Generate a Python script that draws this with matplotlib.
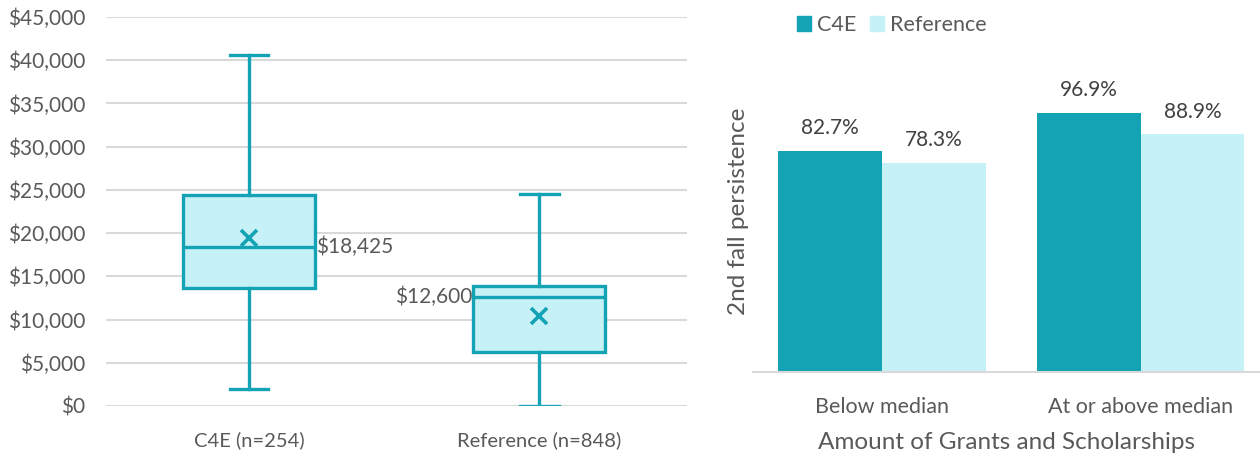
import numpy as np
import matplotlib
matplotlib.use('Agg')
import matplotlib.pyplot as plt
from matplotlib.patches import Patch
from matplotlib.ticker import FuncFormatter

plt.rcParams['font.family'] = ['Lato', 'DejaVu Sans']

# Grants and scholarships box plot (dollars)
groups = ['C4E (n=254)', 'Reference (n=848)']
whisker_low = [2000, 0]
q1 = [13600, 6300]
median = [18425, 12600]
q3 = [24400, 13900]
whisker_high = [40600, 24500]
mean = [19400, 10400]

# 2nd fall persistence by amount of aid (%)
aid_levels = ['Below median', 'At or above median']
series = ['C4E', 'Reference']
c4e_pct = [82.7, 96.9]
ref_pct = [78.3, 88.9]

dark = '#14A3B5'
light = '#C6F1F7'
grey_txt = '#595959'
grid_col = '#D9D9D9'

fig = plt.figure(figsize=(12.6, 4.57), dpi=100)

# Left: box plot
ax1 = fig.add_axes([106/1260, 51/457, 581/1260, 389/457])
stats = []
for i in range(len(groups)):
    stats.append({'whislo': whisker_low[i], 'q1': q1[i], 'med': median[i],
                  'q3': q3[i], 'whishi': whisker_high[i], 'mean': mean[i],
                  'fliers': []})
pos = np.arange(1, len(groups) + 1)
lw = 2.4
ax1.bxp(stats, positions=pos, widths=0.455, capwidths=[0.134]*2,
        showmeans=True, showfliers=False, patch_artist=True,
        boxprops=dict(facecolor=light, edgecolor=dark, linewidth=lw),
        medianprops=dict(color=dark, linewidth=lw),
        whiskerprops=dict(color=dark, linewidth=lw),
        capprops=dict(color=dark, linewidth=lw),
        meanprops=dict(marker='x', markeredgecolor=dark, markersize=11,
                       markeredgewidth=2.6))
ax1.set_xlim(0.507, 2.51)
ax1.set_ylim(0, 45000)
ax1.set_yticks(np.arange(0, 45001, 5000))
ax1.yaxis.set_major_formatter(FuncFormatter(lambda v, p: '${:,.0f}'.format(v)))
ax1.set_xticks(pos)
ax1.set_xticklabels(groups)
ax1.grid(axis='y', color=grid_col, linewidth=1.5, zorder=0)
ax1.set_axisbelow(True)
for s in ax1.spines.values():
    s.set_visible(False)
ax1.tick_params(axis='y', length=0, pad=15, labelsize=15, labelcolor=grey_txt)
ax1.tick_params(axis='x', length=0, pad=18, labelsize=14.5, labelcolor=grey_txt)

# median labels
ax1.text(pos[0] + 0.455/2 + 0.003, median[0], '${:,.0f}'.format(median[0]),
         ha='left', va='center', fontsize=15, color=grey_txt)
ax1.text(pos[1] - 0.455/2 - 0.003, median[1], '${:,.0f}'.format(median[1]),
         ha='right', va='center', fontsize=15, color=grey_txt)

# Right: grouped bars
ax2 = fig.add_axes([753/1260, 85/457, 507/1260, 321/457])
x = np.arange(len(aid_levels))
w = 0.4
b1 = ax2.bar(x - w/2, c4e_pct, w, color=dark, label=series[0])
b2 = ax2.bar(x + w/2, ref_pct, w, color=light, label=series[1])
for bars, vals in [(b1, c4e_pct), (b2, ref_pct)]:
    for bar, v in zip(bars, vals):
        ax2.annotate('{:.1f}%'.format(v), (bar.get_x() + bar.get_width()/2, v),
                     xytext=(0, 9), textcoords='offset points',
                     ha='center', va='bottom', fontsize=15, color='#404040')
ax2.set_xlim(-0.498, 1.46)
ax2.set_ylim(0, 120)
ax2.set_xticks(x)
ax2.set_xticklabels(aid_levels)
for s in ['top', 'right', 'left']:
    ax2.spines[s].set_visible(False)
ax2.spines['bottom'].set_color(grid_col)
ax2.spines['bottom'].set_linewidth(1.5)
ax2.tick_params(axis='y', left=False, labelleft=False)
ax2.tick_params(axis='x', length=0, pad=18, labelsize=15.5, labelcolor=grey_txt)
ax2.set_xlabel('Amount of Grants and Scholarships', fontsize=17.5, color=grey_txt,
               labelpad=11)
ax2.set_ylabel('2nd fall persistence', fontsize=17.5, color=grey_txt, labelpad=3)

handles = [Patch(color=dark), Patch(color=light)]
fig.legend(handles, series, loc='center left', bbox_to_anchor=(797/1260, 1 - 25/457),
           ncol=2, frameon=False, fontsize=15.5, labelcolor=grey_txt,
           handlelength=0.65, handleheight=0.65, handletextpad=0.3,
           columnspacing=0.6, borderpad=0, borderaxespad=0)

fig.savefig('out.png', dpi=100)
plt.close()
